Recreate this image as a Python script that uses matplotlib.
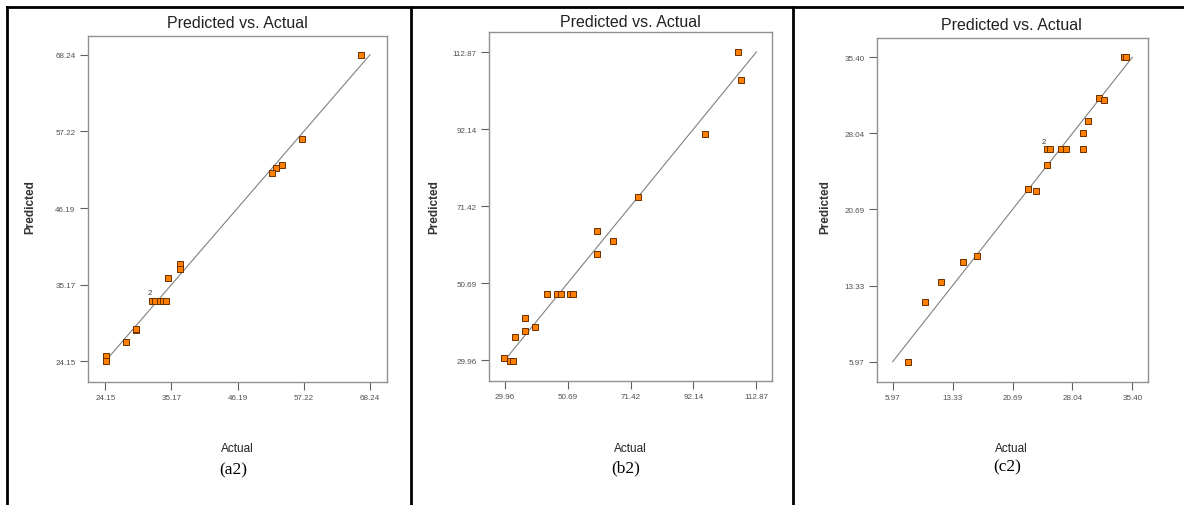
import matplotlib
matplotlib.use('Agg')
import matplotlib.pyplot as plt
from matplotlib.lines import Line2D

W, H = 1184, 506
NARROW = ['Liberation Sans Narrow', 'Liberation Sans', 'DejaVu Sans']

# panel a2
a_actual = [66.68, 56.97, 53.63, 52.58, 51.97, 36.59, 36.59, 34.59,
            31.87, 32.42, 33.26, 33.81, 34.20, 29.20, 29.20, 27.54, 24.20, 24.20]
a_pred = [68.25, 56.13, 52.39, 52.00, 51.19, 38.15, 37.43, 36.09,
          32.83, 32.83, 32.83, 32.83, 32.83, 28.66, 28.85, 26.98, 24.96, 24.15]
a_ticks = [24.15, 35.17, 46.19, 57.22, 68.24]

# panel b2
b_actual = [106.83, 107.93, 95.85, 74.00, 60.49, 65.54, 60.49,
            44.02, 47.20, 48.41, 51.48, 52.58, 36.66, 36.66, 39.95, 33.25, 29.85, 31.83, 32.82]
b_pred = [112.87, 105.41, 90.95, 73.97, 64.63, 62.03, 58.52,
          47.92, 47.92, 47.92, 47.92, 47.92, 41.46, 37.95, 38.85, 36.16, 30.50, 29.78, 29.78]
b_ticks = [29.96, 50.69, 71.42, 92.14, 112.87]

# panel c2
c_actual = [34.34, 34.66, 31.34, 31.95, 29.98, 29.29, 29.29, 24.89, 25.30, 26.66, 27.23,
            24.93, 22.60, 23.62, 16.27, 14.59, 11.92, 9.91, 7.90]
c_pred = [35.43, 35.43, 31.46, 31.30, 29.23, 28.10, 26.55, 26.55, 26.55, 26.55, 26.55,
          24.97, 22.67, 22.45, 16.21, 15.57, 13.69, 11.69, 5.94]
c_ticks = [5.97, 13.33, 20.69, 28.04, 35.40]

# (box px: left, right, top, bottom), limits, title/label centres, caption
panels = [
    dict(x=a_actual, y=a_pred, ticks=a_ticks, box=(88, 387, 37, 383),
         xlim=(21.27, 71.07), ylim=(21.17, 70.93), cx=237, ty=24, ylx=30, cap='(a2)', capy=470,
         note=(31.6, 33.6)),
    dict(x=b_actual, y=b_pred, ticks=b_ticks, box=(489, 772, 33, 382),
         xlim=(24.80, 118.03), ylim=(24.39, 118.26), cx=630, ty=22.5, ylx=434, cap='(b2)', capy=468,
         note=None),
    dict(x=c_actual, y=c_pred, ticks=c_ticks, box=(877, 1148, 39, 383),
         xlim=(4.04, 37.33), ylim=(4.00, 37.27), cx=1011, ty=26, ylx=825, cap='(c2)', capy=467,
         note=(24.55, 26.95)),
]

fig = plt.figure(figsize=(W / 100, H / 100), dpi=100)

for p in panels:
    l, r, t, b = p['box']
    ax = fig.add_axes([l / W, 1 - b / H, (r - l) / W, (b - t) / H])
    lo, hi = p['ticks'][0], p['ticks'][-1]
    ax.plot([lo, hi], [lo, hi], color='#808080', lw=0.8, zorder=1)
    ax.plot(p['x'], p['y'], ls='none', marker='s', ms=4.7, mfc='#ff8000',
            mec='#6b3000', mew=0.7, zorder=2)
    if p['note']:
        ax.text(p['note'][0], p['note'][1], '2', fontsize=5.5, color='#333333',
                family=NARROW, ha='center', va='bottom')
    ax.set_xlim(p['xlim'])
    ax.set_ylim(p['ylim'])
    ax.set_xticks(p['ticks'])
    ax.set_yticks(p['ticks'])
    ax.set_xticklabels(['%.2f' % v for v in p['ticks']])
    ax.set_yticklabels(['%.2f' % v for v in p['ticks']])
    for lab in ax.get_xticklabels() + ax.get_yticklabels():
        lab.set_family(NARROW)
    ax.tick_params(direction='out', length=6, width=0.8, color='#606060',
                   labelsize=5.8, labelcolor='#505050', pad=3)
    for s in ax.spines.values():
        s.set_color('#909090')
        s.set_linewidth(1.0)

    fig.text(p['cx'] / W, 1 - p['ty'] / H, 'Predicted vs. Actual', ha='center', va='center',
             fontsize=11.5, family=NARROW, color='#222222')
    fig.text(p['ylx'] / W, 1 - 207 / H, 'Predicted', rotation=90, ha='center', va='center',
             fontsize=8.5, fontweight='bold', family=['Liberation Sans', 'DejaVu Sans'],
             color='#333333')
    fig.text(p['cx'] / W, 1 - 449 / H, 'Actual', ha='center', va='center',
             fontsize=8.5, family=NARROW, color='#222222')
    fig.text((p['cx'] - 4) / W, 1 - p['capy'] / H, p['cap'], ha='center', va='center',
             fontsize=12.5, family=['Liberation Serif', 'DejaVu Serif'], color='black')

# table-like frame
lw = 2.0
fig.add_artist(Line2D([7 / W, 1], [1 - 8 / H, 1 - 8 / H], color='black', lw=lw))
for xp in (7, 411, 793):
    fig.add_artist(Line2D([xp / W, xp / W], [0, 1 - 8 / H], color='black', lw=lw))

fig.savefig('out.png', dpi=100)
